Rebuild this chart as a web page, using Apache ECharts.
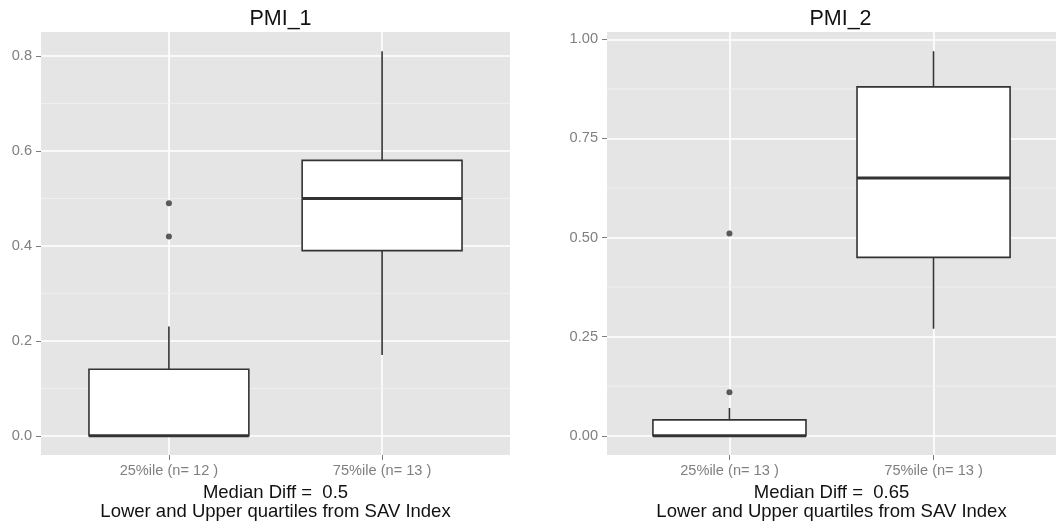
<!DOCTYPE html>
<html><head><meta charset="utf-8">
<script src="https://cdn.jsdelivr.net/npm/echarts@6/dist/echarts.min.js"></script>
<style>html,body{margin:0;padding:0;background:#fff}#c{width:1056px;height:529px}</style>
</head><body><div id="c"></div>
<script>
// ---- data ----
const panelTitles = ['PMI_1', 'PMI_2'];
const categories1 = ['25%ile (n= 12 )', '75%ile (n= 13 )'];
const categories2 = ['25%ile (n= 13 )', '75%ile (n= 13 )'];
// [lower whisker, Q1, median, Q3, upper whisker]
const boxes1 = [[0, 0, 0, 0.14, 0.23], [0.17, 0.39, 0.50, 0.58, 0.81]];
const boxes2 = [[0, 0, 0, 0.04, 0.07], [0.27, 0.45, 0.65, 0.88, 0.97]];
// [category index (1-based), value]
const outliers1 = [[1, 0.49], [1, 0.42]];
const outliers2 = [[1, 0.51], [1, 0.11]];
const yTicks1 = [0, 0.2, 0.4, 0.6, 0.8];
const yTicks2 = [0, 0.25, 0.5, 0.75, 1.0];
const yMinor1 = [0.1, 0.3, 0.5, 0.7];
const yMinor2 = [0.125, 0.375, 0.625, 0.875];
const yRange1 = [-0.0405, 0.8505];
const yRange2 = [-0.0485, 1.0185];
const yDecimals = [1, 2];
const captions1 = ['Median Diff =  0.5', 'Lower and Upper quartiles from SAV Index'];
const captions2 = ['Median Diff =  0.65', 'Lower and Upper quartiles from SAV Index'];

// ---- chart ----
const FONT = 'Liberation Sans, Arial, Helvetica, sans-serif';
const xPos = [1, 2];
const xRange = [0.4, 2.6];
const halfBox = 0.375;
const INK = '#333333';
const GREY = '#7F7F7F';

const panels = [
  { title: panelTitles[0], cats: categories1, boxes: boxes1, out: outliers1, ticks: yTicks1, minor: yMinor1, range: yRange1, dec: yDecimals[0], cap: captions1 },
  { title: panelTitles[1], cats: categories2, boxes: boxes2, out: outliers2, ticks: yTicks2, minor: yMinor2, range: yRange2, dec: yDecimals[1], cap: captions2 }
];
const gridBoxes = [
  { left: 41, top: 32, width: 469, height: 423 },
  { left: 607, top: 32, width: 457, height: 423 }
];

function renderBox(params, api) {
  const x = api.value(0);
  const lo = api.value(1), q1 = api.value(2), med = api.value(3), q3 = api.value(4), hi = api.value(5);
  const tl = api.coord([x - halfBox, q3]);
  const br = api.coord([x + halfBox, q1]);
  const cx = api.coord([x, med])[0];
  const yHi = api.coord([x, hi])[1];
  const yLo = api.coord([x, lo])[1];
  const yMed = api.coord([x, med])[1];
  const ls = { stroke: INK, lineWidth: 1.6 };
  return {
    type: 'group',
    children: [
      { type: 'line', shape: { x1: cx, y1: yHi, x2: cx, y2: tl[1] }, style: ls },
      { type: 'line', shape: { x1: cx, y1: yLo, x2: cx, y2: br[1] }, style: ls },
      { type: 'rect', shape: { x: tl[0], y: tl[1], width: br[0] - tl[0], height: br[1] - tl[1] },
        style: { fill: '#ffffff', stroke: INK, lineWidth: 1.6 } },
      { type: 'line', shape: { x1: tl[0], y1: yMed, x2: br[0], y2: yMed }, style: { stroke: INK, lineWidth: 3 } }
    ]
  };
}
function renderMinor(params, api) {
  const v = api.value(0);
  const a = api.coord([xRange[0], v]);
  const b = api.coord([xRange[1], v]);
  return { type: 'line', shape: { x1: a[0], y1: a[1], x2: b[0], y2: b[1] }, style: { stroke: '#F2F2F2', lineWidth: 0.8 } };
}

const option = {
  animation: false,
  backgroundColor: '#ffffff',
  textStyle: { fontFamily: FONT },
  title: panels.map((p, i) => ({
    text: p.title,
    left: gridBoxes[i].left + gridBoxes[i].width / 2,
    textAlign: 'center',
    top: 3,
    textStyle: { fontSize: 21.5, fontWeight: 'normal', color: '#111', fontFamily: FONT }
  })),
  grid: gridBoxes.map(g => Object.assign({ show: true, backgroundColor: '#E5E5E5', borderWidth: 0, containLabel: false }, g)),
  xAxis: panels.map((p, i) => ({
    type: 'value', gridIndex: i, min: xRange[0], max: xRange[1],
    axisLine: { show: false, onZero: false },
    axisTick: { show: true, customValues: xPos, length: 5, lineStyle: { color: GREY, width: 1 } },
    axisLabel: { customValues: xPos, margin: 8, fontSize: 14.6, color: GREY, fontFamily: FONT,
      formatter: v => p.cats[Math.round(v) - 1] },
    splitLine: { show: true, lineStyle: { color: '#ffffff', width: 1.6 } },
    name: p.cap.join('\n'),
    nameLocation: 'middle',
    nameGap: 27,
    nameTextStyle: { fontSize: 18.5, lineHeight: 19.5, color: '#111', fontFamily: FONT }
  })),
  yAxis: panels.map((p, i) => ({
    type: 'value', gridIndex: i, min: p.range[0], max: p.range[1],
    axisLine: { show: false, onZero: false },
    axisTick: { show: true, customValues: p.ticks, length: 5, lineStyle: { color: GREY, width: 1 } },
    axisLabel: { customValues: p.ticks, margin: 9, fontSize: 14.6, color: GREY, fontFamily: FONT,
      formatter: v => Number(v).toFixed(p.dec) },
    splitLine: { show: true, lineStyle: { color: '#ffffff', width: 1.6 } }
  })),
  series: []
};

panels.forEach((p, i) => {
  option.series.push({
    type: 'custom', xAxisIndex: i, yAxisIndex: i, renderItem: renderMinor, silent: true,
    data: p.minor.map(v => [v]), encode: { y: 0 }, clip: true, z: 1
  });
  option.series.push({
    type: 'custom', xAxisIndex: i, yAxisIndex: i, renderItem: renderBox,
    data: p.boxes.map((b, k) => [xPos[k]].concat(b)),
    encode: { x: 0, y: [1, 2, 3, 4, 5] }, z: 3
  });
  option.series.push({
    type: 'scatter', xAxisIndex: i, yAxisIndex: i, data: p.out,
    symbol: 'circle', symbolSize: 6, itemStyle: { color: INK }, z: 4
  });
});

const chart = echarts.init(document.getElementById('c'), null, { renderer: 'canvas' });
chart.setOption(option);
</script>
</body></html>
